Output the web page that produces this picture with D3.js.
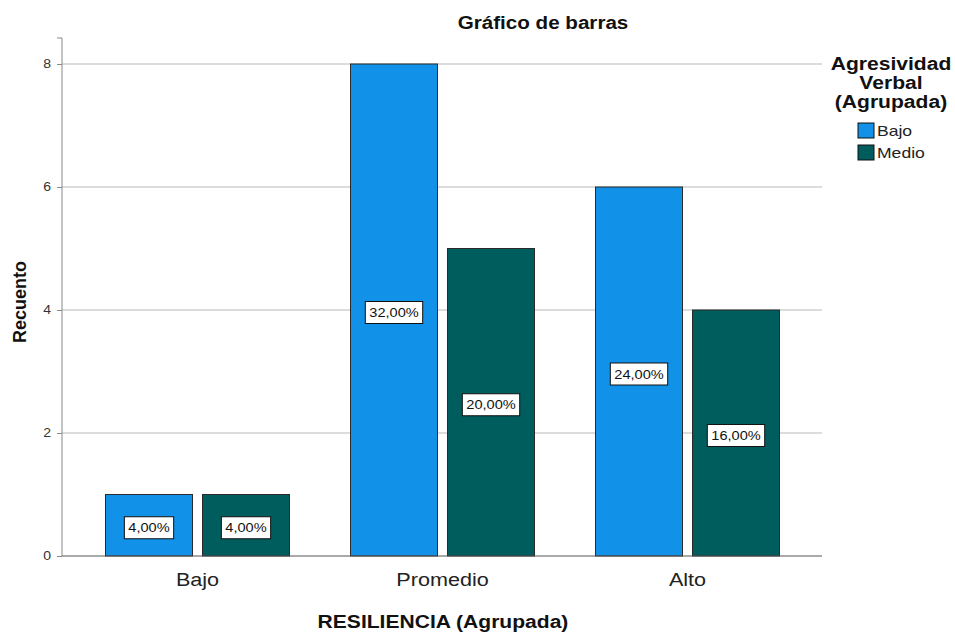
<!DOCTYPE html>
<html><head><meta charset="utf-8">
<script src="https://cdn.jsdelivr.net/npm/d3@7/dist/d3.min.js"></script>
<style>body{margin:0;background:#fff;font-family:Arial,"Liberation Sans",sans-serif}</style>
</head><body>
<svg id="c" width="955" height="634"></svg>
<script>
const categories = ["Bajo", "Promedio", "Alto"];
const seriesNames = ["Bajo", "Medio"];
const bajoValues = [1, 8, 6];
const medioValues = [1, 5, 4];
const bajoPct = ["4,00%", "32,00%", "24,00%"];
const medioPct = ["4,00%", "20,00%", "16,00%"];
const yTicks = [0, 2, 4, 6, 8];
const colors = ["#1192e8", "#005d5d"];

(function(){
const svg = d3.select("#c");
const font = "Arial, 'Liberation Sans', sans-serif";
const left = 62, right = 822, plotTop = 38, bottom = 556;
const SX = 1.17;
function stretch(sel, f) {
  sel.each(function(){
    const l = this.getComputedTextLength();
    d3.select(this).attr("textLength", l * f).attr("lengthAdjust", "spacingAndGlyphs");
  });
  return sel;
}

const x = d3.scaleBand().domain(categories).range([75, 810]).padding(0);
const y = d3.scaleLinear().domain([0, 8]).range([bottom, 64]);
const xs = d3.scaleBand().domain(seriesNames).range([-92, 92]).paddingInner(10/97).paddingOuter(0);

// grid
svg.append("g").selectAll("line").data(yTicks.filter(d=>d>0)).join("line")
  .attr("x1", left).attr("x2", right).attr("y1", d=>y(d)).attr("y2", d=>y(d))
  .attr("stroke", "#d0d0d0").attr("stroke-width", 1.5);

// y axis
const yAxis = svg.append("g").attr("transform", `translate(${left},0)`)
  .call(d3.axisLeft(y).tickValues(yTicks).tickSize(5).tickPadding(6));
yAxis.select(".domain").attr("stroke", "#888").attr("d", `M-5,${plotTop}H0V${bottom}`);
yAxis.selectAll(".tick line").attr("stroke", "#888");
stretch(yAxis.selectAll("text").attr("font-family", font).attr("font-size", 12).attr("fill", "#333"), SX);

// bars
const data = [];
categories.forEach((c, i) => {
  data.push({c, s: seriesNames[0], v: bajoValues[i], p: bajoPct[i], col: colors[0]});
  data.push({c, s: seriesNames[1], v: medioValues[i], p: medioPct[i], col: colors[1]});
});
const cx = d => x(d.c) + x.bandwidth()/2 + xs(d.s);
svg.append("g").selectAll("rect").data(data).join("rect")
  .attr("x", cx).attr("width", xs.bandwidth())
  .attr("y", d=>y(d.v)).attr("height", d=>bottom - y(d.v))
  .attr("fill", d=>d.col).attr("stroke", "#2a2a2a").attr("stroke-width", 1);

// x axis
const xAxis = svg.append("g").attr("transform", `translate(0,${bottom})`)
  .call(d3.axisBottom(x).tickSize(0).tickPadding(17));
xAxis.select(".domain").attr("stroke", "#555").attr("d", `M${left},0H${right}`);
stretch(xAxis.selectAll("text").attr("font-family", font).attr("font-size", 18).attr("fill", "#222"), 1.2);

// labels
const lg = svg.append("g").selectAll("g").data(data).join("g")
  .attr("transform", d => `translate(${cx(d) + xs.bandwidth()/2},${(y(d.v)+bottom)/2 + 2.5})`);
lg.each(function(d){
  const g = d3.select(this);
  const t = g.append("text").text(d.p).attr("font-family", font).attr("font-size", 13)
    .attr("text-anchor", "middle").attr("dy", "0.36em").attr("fill", "#111");
  const w = t.node().getComputedTextLength() * 1.12;
  t.attr("textLength", w).attr("lengthAdjust", "spacingAndGlyphs");
  g.insert("rect", "text").attr("x", -w/2 - 4).attr("y", -11).attr("width", w + 8).attr("height", 22)
    .attr("fill", "#fff").attr("stroke", "#111").attr("stroke-width", 1);
});

// titles
stretch(svg.append("text").attr("x", 543).attr("y", 29).attr("text-anchor", "middle")
  .attr("font-family", font).attr("font-weight", "bold").attr("font-size", 18).attr("fill", "#111")
  .text("Gráfico de barras"), 1.145);
svg.append("text").attr("transform", "translate(26,302) rotate(-90)").attr("text-anchor", "middle")
  .attr("font-family", font).attr("font-weight", "bold").attr("font-size", 18).attr("fill", "#111")
  .text("Recuento");
stretch(svg.append("text").attr("x", 443).attr("y", 628).attr("text-anchor", "middle")
  .attr("font-family", font).attr("font-weight", "bold").attr("font-size", 18).attr("fill", "#111")
  .text("RESILIENCIA (Agrupada)"), SX);

// legend
const legTitle = ["Agresividad", "Verbal", "(Agrupada)"];
stretch(svg.append("g").selectAll("text").data(legTitle).join("text")
  .attr("x", 891).attr("y", (d,i)=> 70 + i*19).attr("text-anchor", "middle")
  .attr("font-family", font).attr("font-weight", "bold").attr("font-size", 18).attr("fill", "#111")
  .text(d=>d), SX);
const li = svg.append("g").selectAll("g").data(seriesNames).join("g")
  .attr("transform", (d,i)=>`translate(858,${123 + i*22})`);
li.append("rect").attr("width", 16).attr("height", 15).attr("fill", (d,i)=>colors[i])
  .attr("stroke", "#111").attr("stroke-width", 1);
stretch(li.append("text").attr("x", 19).attr("y", 13).attr("font-family", font).attr("font-size", 15)
  .attr("fill", "#222").text(d=>d), SX);
})();
</script>
</body></html>
